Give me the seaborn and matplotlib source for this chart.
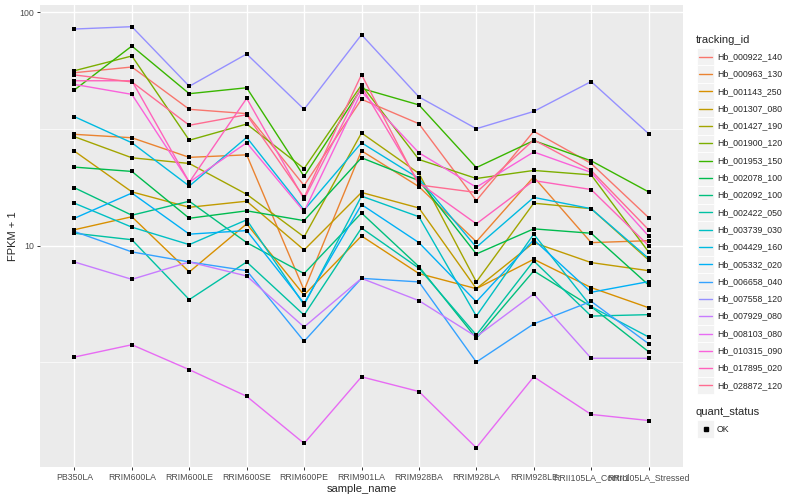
# FPKM profiles per gene across samples (ggplot-style look)
import pandas as pd
import matplotlib
matplotlib.use("Agg")
import matplotlib.pyplot as plt
import seaborn as sns
from matplotlib.patches import Rectangle
from matplotlib.lines import Line2D
from matplotlib.ticker import NullFormatter

# ---- data ----
samples = ["PB350LA", "RRIM600LA", "RRIM600LE", "RRIM600SE", "RRIM600PE",
           "RRIM901LA", "RRIM928BA", "RRIM928LA", "RRIM928LE",
           "RRII105LA_Control", "RRII105LA_Stressed"]

tracking_ids = ["Hb_000922_140", "Hb_000963_130", "Hb_001143_250", "Hb_001307_080",
                "Hb_001427_190", "Hb_001900_120", "Hb_001953_150", "Hb_002078_100",
                "Hb_002092_100", "Hb_002422_050", "Hb_003739_030", "Hb_004429_160",
                "Hb_005332_020", "Hb_006658_040", "Hb_007558_120", "Hb_007929_080",
                "Hb_008103_080", "Hb_010315_090", "Hb_017895_020", "Hb_028872_120"]

hb_000922_140 = [55.1, 58.3, 38.4, 36.8, 18.1, 42.4, 33.3, 15.6, 30.9, 22.5, 13.2]
hb_000963_130 = [30.0, 29.0, 23.9, 24.5, 6.44, 25.5, 17.9, 10.4, 19.7, 10.3, 10.5]
hb_001143_250 = [11.7, 13.3, 7.71, 12.4, 6.14, 11.0, 7.59, 6.54, 8.74, 6.61, 5.42]
hb_001307_080 = [25.4, 17.0, 14.6, 15.5, 9.58, 16.9, 14.5, 6.54, 10.3, 8.46, 7.81]
hb_001427_190 = [29.3, 23.8, 22.5, 16.6, 10.9, 30.4, 20.4, 6.99, 15.2, 14.4, 8.68]
hb_001900_120 = [56.2, 65.0, 28.3, 33.2, 21.4, 48.8, 23.4, 19.4, 21.0, 20.1, 9.4]
hb_001953_150 = [46.5, 71.7, 44.8, 47.5, 19.8, 47.2, 40.1, 21.6, 28.2, 23.1, 17.0]
hb_002078_100 = [21.7, 20.8, 13.1, 14.1, 12.8, 23.8, 19.0, 9.21, 11.8, 11.3, 6.78]
hb_002092_100 = [17.7, 13.5, 15.5, 10.3, 7.59, 13.8, 8.13, 4.01, 7.79, 5.48, 3.51]
hb_002422_050 = [11.3, 10.6, 5.87, 8.51, 5.04, 11.9, 8.00, 4.14, 8.60, 4.99, 5.06]
hb_003739_030 = [15.2, 12.0, 10.1, 12.9, 5.57, 16.3, 13.3, 4.99, 11.2, 5.48, 4.06]
hb_004429_160 = [35.7, 27.6, 18.0, 29.1, 14.2, 27.6, 19.4, 9.84, 16.1, 14.4, 8.82]
hb_005332_020 = [13.1, 16.8, 11.2, 11.6, 5.66, 15.0, 10.3, 5.75, 10.6, 6.31, 7.01]
hb_006658_040 = [11.5, 9.40, 8.51, 7.81, 3.89, 7.24, 6.99, 3.17, 4.62, 5.77, 3.80]
hb_007558_120 = [84.8, 86.8, 48.2, 66.3, 38.4, 80.2, 43.4, 31.7, 37.6, 50.5, 30.2]
hb_007929_080 = [8.51, 7.17, 8.51, 7.41, 4.48, 7.24, 5.81, 4.07, 6.21, 3.29, 3.29]
hb_008103_080 = [3.33, 3.76, 2.94, 2.26, 1.42, 2.74, 2.37, 1.36, 2.74, 1.89, 1.78]
hb_010315_090 = [49.1, 44.5, 18.7, 27.6, 14.0, 45.7, 25.0, 17.8, 25.2, 20.6, 11.0]
hb_017895_020 = [50.9, 50.9, 18.7, 42.8, 15.8, 48.0, 18.6, 12.4, 19.0, 17.4, 10.0]
hb_028872_120 = [53.9, 50.3, 32.8, 36.4, 16.1, 54.1, 18.2, 16.9, 28.4, 21.0, 11.7]

series = [hb_000922_140, hb_000963_130, hb_001143_250, hb_001307_080, hb_001427_190,
          hb_001900_120, hb_001953_150, hb_002078_100, hb_002092_100, hb_002422_050,
          hb_003739_030, hb_004429_160, hb_005332_020, hb_006658_040, hb_007558_120,
          hb_007929_080, hb_008103_080, hb_010315_090, hb_017895_020, hb_028872_120]

# ggplot2 default hue palette for 20 levels
palette = ["#F8766D", "#EA8331", "#D89000", "#C09B00", "#A3A500", "#7CAE00", "#39B600",
           "#00BB4E", "#00BF7D", "#00C1A3", "#00BFC4", "#00BAE0", "#00B0F6", "#35A2FF",
           "#9590FF", "#C77CFF", "#E76BF3", "#FA62DB", "#FF62BC", "#FF6C91"]

rows = []
for tid, vals in zip(tracking_ids, series):
    for i, (s, v) in enumerate(zip(samples, vals)):
        rows.append({"tracking_id": tid, "sample_name": s, "pos": i, "fpkm": v})
df = pd.DataFrame(rows)

# ---- style ----
sns.set_theme(style="darkgrid", rc={"axes.facecolor": "#EBEBEB", "grid.color": "white"})
plt.rcParams["font.family"] = ["Liberation Sans", "DejaVu Sans"]

W, H = 800, 500
fig = plt.figure(figsize=(8, 5), dpi=100)
fig.patch.set_facecolor("white")
ax = fig.add_axes([40 / W, 1 - 467 / H, (683 - 40) / W, (467 - 5) / H])

sns.lineplot(data=df, x="pos", y="fpkm", hue="tracking_id", hue_order=tracking_ids,
             palette=palette, estimator=None, sort=False, linewidth=1.0,
             legend=False, ax=ax)
sns.scatterplot(data=df, x="pos", y="fpkm", color="black", marker="s", s=11,
                linewidth=0, legend=False, ax=ax, zorder=5)

ax.set_yscale("log")
ax.set_ylim(1.125, 107.5)
ax.set_xlim(-0.6, len(samples) - 0.4)
ax.set_yticks([10, 100])
ax.set_yticklabels(["10", "100"])
ax.set_yticks([10 ** 0.5, 10 ** 1.5], minor=True)
ax.yaxis.set_minor_formatter(NullFormatter())
ax.set_xticks(range(len(samples)))
ax.set_xticklabels(samples)
ax.grid(which="major", color="white", linewidth=1.0)
ax.grid(which="minor", axis="y", color="white", linewidth=0.5)
ax.tick_params(axis="both", which="major", labelsize=6.3, labelcolor="#4D4D4D",
               length=2.5, width=0.7, color="#333333", pad=2, left=True, bottom=True)
ax.tick_params(axis="y", which="minor", length=0)
for sp in ax.spines.values():
    sp.set_visible(False)
ax.set_xlabel("sample_name", fontsize=8, labelpad=1)
ax.set_ylabel("FPKM + 1", fontsize=8, labelpad=1)


# ---- legends drawn ggplot-style on the right ----
def fx(x):
    return x / W


def fy(y):
    return 1 - y / H


key_x, key_w, row_h = 697, 17, 17.3
fig.text(fx(696), fy(40), "tracking_id", fontsize=8, va="center", ha="left")
for i, (tid, col) in enumerate(zip(tracking_ids, palette)):
    yc = 56.7 + row_h * i
    fig.add_artist(Rectangle((fx(key_x), fy(yc + row_h / 2)), key_w / W, row_h / H,
                             transform=fig.transFigure, facecolor="#F2F2F2",
                             edgecolor="white", linewidth=0.6))
    fig.add_artist(Line2D([fx(key_x + 2), fx(key_x + key_w - 2)], [fy(yc), fy(yc)],
                          transform=fig.transFigure, color=col, linewidth=1.0))
    fig.text(fx(717), fy(yc), tid, fontsize=6.3, va="center", ha="left")

fig.text(fx(696), fy(412), "quant_status", fontsize=8, va="center", ha="left")
yc = 429
fig.add_artist(Rectangle((fx(key_x), fy(yc + row_h / 2)), key_w / W, row_h / H,
                         transform=fig.transFigure, facecolor="#F2F2F2",
                         edgecolor="white", linewidth=0.6))
fig.add_artist(Line2D([fx(key_x + key_w / 2)], [fy(yc)], transform=fig.transFigure,
                      marker="s", markersize=2.8, color="black", linestyle="none"))
fig.text(fx(717), fy(yc), "OK", fontsize=6.3, va="center", ha="left")

fig.savefig("out.png", dpi=100)
